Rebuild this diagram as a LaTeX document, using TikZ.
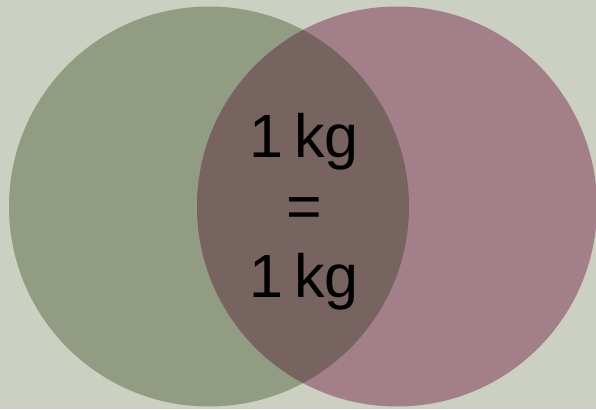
\documentclass[tikz,border=0pt]{standalone}
\usepackage{fontspec}
\setmainfont{Liberation Sans}
\definecolor{bgc}{HTML}{CBD0C3}
\definecolor{leftc}{HTML}{919C83}
\definecolor{rightc}{HTML}{A27F89}
\definecolor{midc}{HTML}{776360}
\tikzset{lbl/.style={font=\fontsize{61}{61}\selectfont, text=black, inner sep=0pt, anchor=base}}
\begin{document}
\begin{tikzpicture}[x=1pt,y=-1pt]
\fill[bgc] (0,0) rectangle (596,409);
\useasboundingbox (0,0) rectangle (596,409);
\fill[leftc] (209,206.5) circle[radius=200];
\fill[rightc] (397,206.5) circle[radius=200];
\begin{scope}
\clip (209,206.5) circle[radius=200];
\fill[midc] (397,206.5) circle[radius=200];
\end{scope}
\node[lbl] (t1) at (304,157) {1\kern0.18em kg};
\node[lbl] (t2) at (304,227) {=};
\node[lbl] (t3) at (304,297) {1\kern0.18em kg};
\end{tikzpicture}
\end{document}
